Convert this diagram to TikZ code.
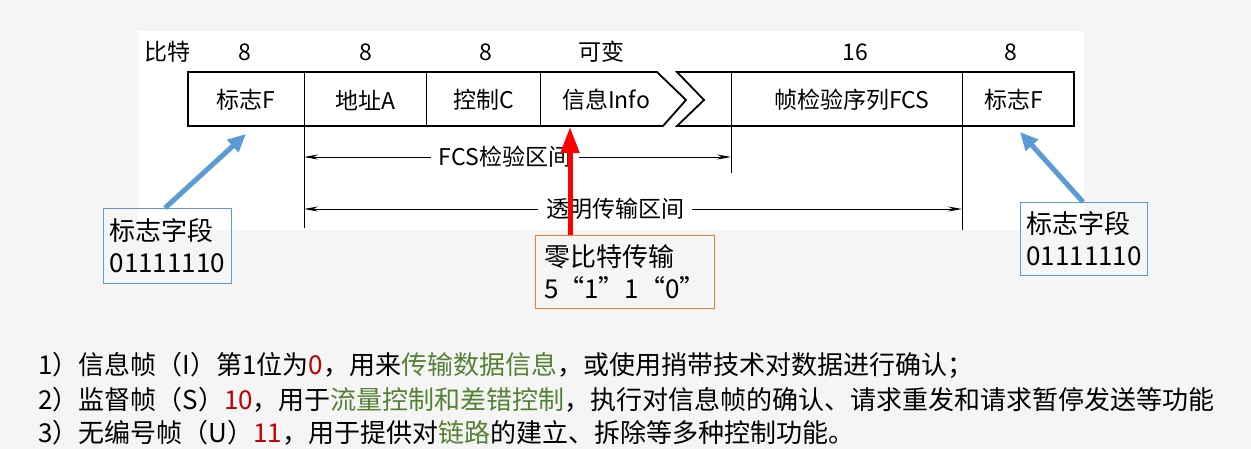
\documentclass[tikz,border=0pt]{standalone}
\usepackage{fontspec}
\setmainfont{Liberation Serif}
\newfontfamily\cjk{Noto Sans CJK SC}
\usetikzlibrary{arrows.meta}
\definecolor{bgc}{HTML}{F5F5F5}
\definecolor{bluec}{HTML}{5B9BD5}
\definecolor{orc}{HTML}{ED7D31}
\definecolor{redt}{HTML}{C00000}
\definecolor{grn}{HTML}{548235}
\tikzset{
  lbl/.style={font=\cjk\fontsize{23}{26}\selectfont, inner sep=1pt},
  fr/.style={line width=1.8pt},
  dv/.style={line width=0.9pt},
  dim/.style={line width=0.9pt, -{Stealth[length=14pt,width=5pt]}},
  note/.style={font=\cjk\fontsize{26}{32}\selectfont, align=left, inner sep=6pt, anchor=north west},
  btxt/.style={font=\cjk\fontsize{26}{28}\selectfont, anchor=west, inner sep=0pt},
}
\begin{document}
\begin{tikzpicture}[x=1pt,y=-1pt]
\useasboundingbox (0,0) rectangle (1251,449);
\fill[bgc] (0,0) rectangle (1251,449);
\fill[white] (138,31) rectangle (1084,230);
% top labels
\node[lbl] (hb) at (167,52) {比特};
\foreach \x/\t/\n in {245/8/a,366/8/b,486/8/c,601/可变/d,855/16/e,1011/8/f}
  \node[lbl] (t\n) at (\x,52) {\t};
% frame
\draw[fr,line join=miter] (663,126) -- (188,126) -- (188,72) -- (657,72) -- (686,100) -- cycle;
\draw[fr,line join=miter] (677,72) -- (1074,72) -- (1074,126) -- (677,126) -- (704,100) -- cycle;
\draw[dv] (304,72) -- (304,228);
\draw[dv] (426,72) -- (426,126);
\draw[dv] (540,72) -- (540,126);
\draw[dv] (731,72) -- (731,173);
\draw[dv] (962,72) -- (962,230);
\foreach \x/\t/\n in {246/标志F/a,365/地址A/b,484/控制C/c,606/信息Info/d,852/帧检验序列FCS/e,1014/标志F/f}
  \node[lbl] (c\n) at (\x,100) {\t};
% dimension lines
\coordinate (f1) at (304,157); \coordinate (f2) at (731,157);
\coordinate (g1) at (304,209); \coordinate (g2) at (962,209);
\draw[dim] (505,157) -- (f1);
\draw[dim] (505,157) -- (f2);
\node[lbl,fill=white,inner sep=8pt] (fcs) at (505,157) {FCS检验区间};
\draw[dim] (615,209) -- (g1);
\draw[dim] (615,209) -- (g2);
\node[lbl,fill=white,inner sep=8pt] (tr) at (615,209) {透明传输区间};
% notes
\node[note,draw=bluec,line width=0.8pt,minimum width=128pt,minimum height=75pt] (nl) at (103,208) {标志字段\\01111110};
\node[note,draw=bluec,line width=0.8pt,minimum width=127pt,minimum height=73pt] (nr) at (1020,202) {标志字段\\01111110};
\node[note,draw=orc,line width=0.8pt,minimum width=179pt,minimum height=73pt] (no) at (535,235) {零比特传输\\5“1”1“0”};
\coordinate (pl) at (246,134);
\coordinate (pr) at (1020,132);
\coordinate (pi) at (570,127);
\draw[bluec,line width=5pt,-{Triangle[length=18pt,width=16pt]}] (165,208) -- (pl);
\draw[bluec,line width=5pt,-{Triangle[length=18pt,width=16pt]}] (1083,202) -- (pr);
\draw[red,line width=5pt,-{Triangle[length=26pt,width=18pt]}] (no.north -| pi) -- (pi);
% bottom text
\node[btxt] (l1) at (38,365) {1）信息帧（I）第1位为\textcolor{redt}{0}，用来\textcolor{grn}{传输数据信息}，或使用捎带技术对数据进行确认；};
\node[btxt] (l2) at (38,400) {2）监督帧（S）\textcolor{redt}{10}，用于\textcolor{grn}{流量控制和差错控制}，执行对信息帧的确认、请求重发和请求暂停发送等功能};
\node[btxt] (l3) at (38,433) {3）无编号帧（U）\textcolor{redt}{11}，用于提供对\textcolor{grn}{链路}的建立、拆除等多种控制功能。};
\end{tikzpicture}
\end{document}
